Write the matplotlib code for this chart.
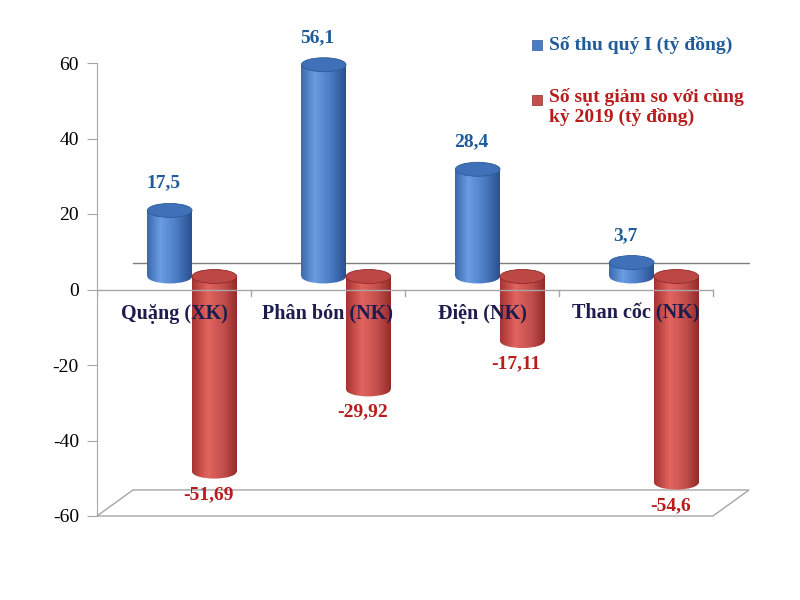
import numpy as np
import matplotlib.pyplot as plt
from matplotlib.patches import Rectangle, Ellipse, Polygon
from matplotlib.colors import LinearSegmentedColormap

plt.rcParams['font.family'] = ['Liberation Serif', 'DejaVu Serif']
plt.rcParams['axes.unicode_minus'] = False

categories = ["Quặng (XK)", "Phân bón (NK)", "Điện (NK)", "Than cốc (NK)"]
so_thu = [17.5, 56.1, 28.4, 3.7]
so_giam = [-51.69, -29.92, -17.11, -54.6]
yticks = [-60, -40, -20, 0, 20, 40, 60]
legend_labels = ["Số thu quý I (tỷ đồng)", "Số sụt giảm so với cùng\nkỳ 2019 (tỷ đồng)"]

blue_txt = "#1F5C99"
red_txt = "#B81C1C"
cat_txt = "#1C1C4E"
grey = "#A6A6A6"

blue_cmap = LinearSegmentedColormap.from_list(
    "b", [(0, "#3A68AC"), (0.3, "#6B9DE2"), (0.65, "#4B7DC5"), (1, "#2A508F")])
red_cmap = LinearSegmentedColormap.from_list(
    "r", [(0, "#A63331"), (0.35, "#E2645F"), (0.7, "#C34F4C"), (1, "#942B29")])

fig = plt.figure(figsize=(8, 6), dpi=100)
ax = fig.add_axes([97 / 800, 84 / 600, 653 / 800, 453 / 600])

# fake 3D depth of the plot box (in data units)
dx, dy = 0.234, 6.9
bw = 0.29
eh = 3.7
n = len(categories)


def cylinder(x, y0, y1, cmap, top_color, edge, z):
    lo, hi = min(y0, y1), max(y0, y1)
    grad = np.linspace(0, 1, 256).reshape(1, -1)
    body = Rectangle((x - bw / 2, lo), bw, hi - lo, transform=ax.transData)
    base = Ellipse((x, lo), bw, eh, transform=ax.transData)
    for clip in (body, base):
        im = ax.imshow(grad, cmap=cmap, aspect="auto", origin="lower",
                       extent=(x - bw / 2, x + bw / 2, lo - eh, hi), zorder=z)
        im.set_clip_box(None)
        im.set_clip_path(clip)
    ax.add_patch(Ellipse((x, hi), bw, eh, facecolor=top_color, clip_on=False,
                         edgecolor=edge, lw=0.6, zorder=z + 0.1))


# floor and back zero line
ax.add_patch(Polygon([(0, -60), (n, -60), (n + dx, -60 + dy), (dx, -60 + dy)],
                     closed=True, facecolor="white", edgecolor=grey, lw=1,
                     zorder=0.5, clip_on=False))
ax.plot([dx, n + dx], [dy, dy], color="#7F7F7F", lw=1, zorder=1)

for i in range(n):
    c = i + 0.5 + dx / 2
    cylinder(c - bw / 2, dy / 2, dy / 2 + so_thu[i], blue_cmap, "#3F70B8", "#2E5A9A", 2)
    cylinder(c + bw / 2, dy / 2, dy / 2 + so_giam[i], red_cmap, "#BC4744", "#8E2A28", 4)
    ax.text(c - bw / 2 - 0.04, dy / 2 + so_thu[i] + 7.2, f"{so_thu[i]:g}".replace(".", ","),
            color=blue_txt, fontsize=14, fontweight="bold", ha="center", va="center",
            zorder=8, clip_on=False)
    ax.text(c + bw / 2 - 0.04, dy / 2 + so_giam[i] - 6.0, f"{so_giam[i]:g}".replace(".", ","),
            color=red_txt, fontsize=14, fontweight="bold", ha="center", va="center", zorder=8)
    ax.text(i + 0.5, -6.4, categories[i], color=cat_txt, fontsize=14.5,
            fontweight="bold", ha="center", va="center", zorder=7)

# category axis at zero with boundary ticks
ax.plot([0, n], [0, 0], color=grey, lw=1, zorder=6)
for i in range(n + 1):
    ax.plot([i, i], [0, -1.6], color=grey, lw=1, zorder=6)

ax.set_xlim(0, 653 / 154)
ax.set_ylim(-60, 60)
ax.set_xticks([])
ax.set_yticks(yticks)
ax.tick_params(axis="y", direction="out", length=7, color=grey, labelsize=14, pad=6)
for s in ["top", "right", "bottom"]:
    ax.spines[s].set_visible(False)
ax.spines["left"].set_color(grey)
ax.patch.set_visible(False)

# legend, drawn by hand to keep the marker on the first line
fig.add_artist(Rectangle((532 / 800, 1 - 50 / 600), 10 / 800, 10 / 600,
                         transform=fig.transFigure, facecolor="#4A7CC4", edgecolor="#2E5A9A", lw=0.5))
fig.add_artist(Rectangle((532 / 800, 1 - 105 / 600), 10 / 800, 10 / 600,
                         transform=fig.transFigure, facecolor="#C34F4C", edgecolor="#8E2A28", lw=0.5))
fig.text(549 / 800, 1 - 45 / 600, legend_labels[0], color=blue_txt, fontsize=14,
         fontweight="bold", va="center", ha="left")
fig.text(549 / 800, 1 - 88 / 600, legend_labels[1], color=red_txt, fontsize=14,
         fontweight="bold", va="top", ha="left", linespacing=1.15)

fig.savefig("out.png", dpi=100)
